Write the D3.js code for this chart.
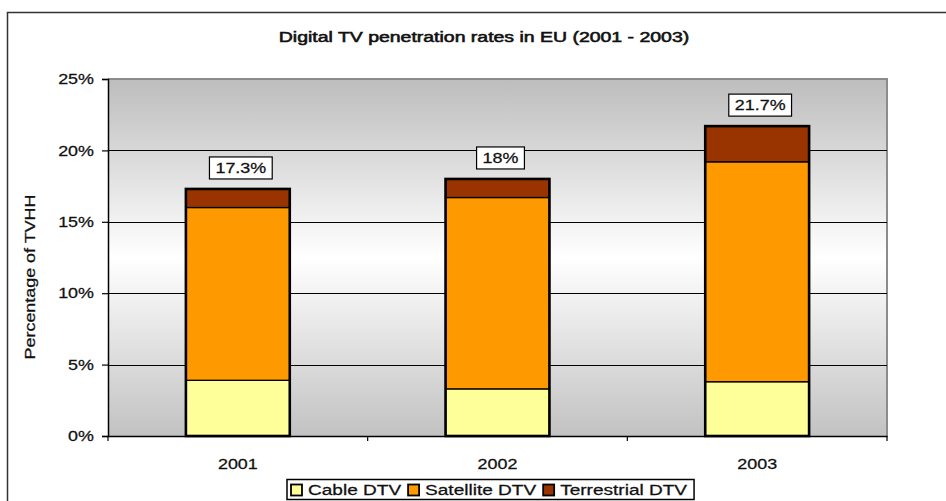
<!DOCTYPE html>
<html>
<head>
<meta charset="utf-8">
<script src="https://cdn.jsdelivr.net/npm/d3@7"></script>
<style>
  body { margin: 0; background: #fff; }
  text { font-family: "Liberation Sans", Arial, sans-serif; fill: #111; stroke: #111; stroke-width: 0.25px; }
</style>
</head>
<body>
<div id="chart"></div>
<script>
"use strict";
const years = ["2001", "2002", "2003"];
const seriesNames = ["Cable DTV", "Satellite DTV", "Terrestrial DTV"];
const cable = [3.9, 3.3, 3.8];
const satellite = [12.1, 13.4, 15.4];
const terrestrial = [1.3, 1.3, 2.5];
const totalLabels = ["17.3%", "18%", "21.7%"];
const yTicks = [0, 5, 10, 15, 20, 25];
const colors = ["#ffff99", "#ff9900", "#993300"];

const width = 946, height = 501;
const plot = { left: 108, right: 887, top: 79, bottom: 436 };
const sx = 1.28; // the source fonts render wide

const svg = d3.select("#chart").append("svg")
    .attr("width", width)
    .attr("height", height);

// outer frame
svg.append("rect")
    .attr("x", 7.5).attr("y", 12.5)
    .attr("width", width + 20).attr("height", height + 20)
    .attr("fill", "none")
    .attr("stroke", "#333")
    .attr("stroke-width", 1.5);

// helper for wide text
function wideText(g, x, y, str, opts = {}) {
    const rot = opts.rotate ? ` rotate(${opts.rotate})` : "";
    return g.append("text")
        .attr("transform", `translate(${x},${y})${rot} scale(${opts.sx || sx},1)`)
        .attr("text-anchor", opts.anchor || "middle")
        .attr("dominant-baseline", "central")
        .style("font-size", (opts.size || 14) + "px")
        .style("stroke-width", (opts.stroke || 0.25) + "px")
        .text(str);
}

const defs = svg.append("defs");
const grad = defs.append("linearGradient")
    .attr("id", "bg").attr("x1", 0).attr("y1", 0).attr("x2", 0).attr("y2", 1);
grad.append("stop").attr("offset", "0%").attr("stop-color", "#bdbdbd");
grad.append("stop").attr("offset", "50%").attr("stop-color", "#ffffff");
grad.append("stop").attr("offset", "100%").attr("stop-color", "#c2c2c2");

const x = d3.scaleBand()
    .domain(years)
    .range([plot.left, plot.right])
    .paddingInner(0.6)
    .paddingOuter(0.3);
const band = d3.scaleBand().domain(years).range([plot.left, plot.right]);

const y = d3.scaleLinear()
    .domain([0, 25])
    .range([plot.bottom, plot.top]);

// plot background
svg.append("rect")
    .attr("x", plot.left).attr("y", plot.top)
    .attr("width", plot.right - plot.left)
    .attr("height", plot.bottom - plot.top)
    .attr("fill", "url(#bg)");
svg.append("path")
    .attr("d", `M${plot.left},${plot.top}H${plot.right}V${plot.bottom}`)
    .attr("fill", "none")
    .attr("stroke", "#8c8c8c")
    .attr("stroke-width", 2);

// gridlines
svg.append("g")
    .selectAll("line")
    .data(yTicks.filter(t => t > 0 && t < 25))
    .join("line")
    .attr("x1", plot.left).attr("x2", plot.right)
    .attr("y1", d => Math.round(y(d)) + 0.5).attr("y2", d => Math.round(y(d)) + 0.5)
    .attr("stroke", "#000")
    .attr("stroke-width", 1.2);

// y axis
const yAxis = svg.append("g")
    .attr("transform", `translate(${plot.left},0)`)
    .call(d3.axisLeft(y).tickValues(yTicks).tickSize(6).tickFormat(() => ""));
yAxis.select(".domain").attr("stroke", "#000").attr("stroke-width", 1.5);
yAxis.selectAll(".tick line").attr("stroke", "#000").attr("stroke-width", 1.2);
yTicks.forEach(t => wideText(svg, 94, y(t), t + "%", { anchor: "end" }));

// stacked data
const table = years.map((yr, i) => ({
    year: yr, "Cable DTV": cable[i], "Satellite DTV": satellite[i], "Terrestrial DTV": terrestrial[i]
}));
const stacked = d3.stack().keys(seriesNames)(table);

svg.append("g")
    .selectAll("g")
    .data(stacked)
    .join("g")
    .attr("fill", (d, i) => colors[i])
    .selectAll("rect")
    .data(d => d)
    .join("rect")
    .attr("x", d => x(d.data.year))
    .attr("y", d => y(d[1]))
    .attr("width", x.bandwidth())
    .attr("height", d => y(d[0]) - y(d[1]))
    .attr("stroke", "#000")
    .attr("stroke-width", 1.3);

// outer outline of each bar
const totals = years.map((yr, i) => cable[i] + satellite[i] + terrestrial[i]);
svg.append("g")
    .selectAll("rect")
    .data(years)
    .join("rect")
    .attr("x", d => x(d))
    .attr("y", (d, i) => y(totals[i]))
    .attr("width", x.bandwidth())
    .attr("height", (d, i) => y(0) - y(totals[i]))
    .attr("fill", "none")
    .attr("stroke", "#000")
    .attr("stroke-width", 2.6);

// x axis
const xAxis = svg.append("g")
    .attr("transform", `translate(0,${plot.bottom})`)
    .call(d3.axisBottom(band).tickSize(0).tickFormat(() => ""));
xAxis.select(".domain").attr("stroke", "#000").attr("stroke-width", 1.5);
svg.append("g")
    .selectAll("line")
    .data([plot.left, ...years.map(d => band(d) + band.bandwidth())])
    .join("line")
    .attr("x1", d => d).attr("x2", d => d)
    .attr("y1", plot.bottom).attr("y2", plot.bottom + 5)
    .attr("stroke", "#000")
    .attr("stroke-width", 1.2);
years.forEach(yr => wideText(svg, band(yr) + band.bandwidth() / 2, 464, yr));

// total labels
years.forEach((yr, i) => {
    const cx = x(yr) + x.bandwidth() / 2 + 3;
    const cy = y(totals[i]) - 21;
    const t = wideText(svg, cx, cy, totalLabels[i]);
    const w = t.node().getComputedTextLength() * sx + 12;
    svg.insert("rect", () => t.node())
        .attr("x", cx - w / 2).attr("y", cy - 11)
        .attr("width", w).attr("height", 22)
        .attr("fill", "#fff")
        .attr("stroke", "#000")
        .attr("stroke-width", 1.2);
});

// title and axis title
wideText(svg, 484, 37, "Digital TV penetration rates in EU (2001 - 2003)",
    { sx: 1.39, size: 14, stroke: 0.55 });
wideText(svg, 30, 277, "Percentage of TVHH", { rotate: -90 });

// legend
const legend = svg.append("g");
const legendBox = legend.append("rect")
    .attr("y", 479.5).attr("height", 20)
    .attr("fill", "#fff")
    .attr("stroke", "#000")
    .attr("stroke-width", 1.5);
let lx = 291;
const ly = 490;
seriesNames.forEach((name, i) => {
    legend.append("rect")
        .attr("x", lx).attr("y", ly - 5.5)
        .attr("width", 11).attr("height", 11)
        .attr("fill", colors[i])
        .attr("stroke", "#000")
        .attr("stroke-width", 1.8);
    const t = wideText(legend, lx + 17, ly, name, { anchor: "start", sx: 1.36 });
    lx += 17 + t.node().getComputedTextLength() * 1.36 + 7;
});
legendBox.attr("x", 287).attr("width", lx - 287);
</script>
</body>
</html>
